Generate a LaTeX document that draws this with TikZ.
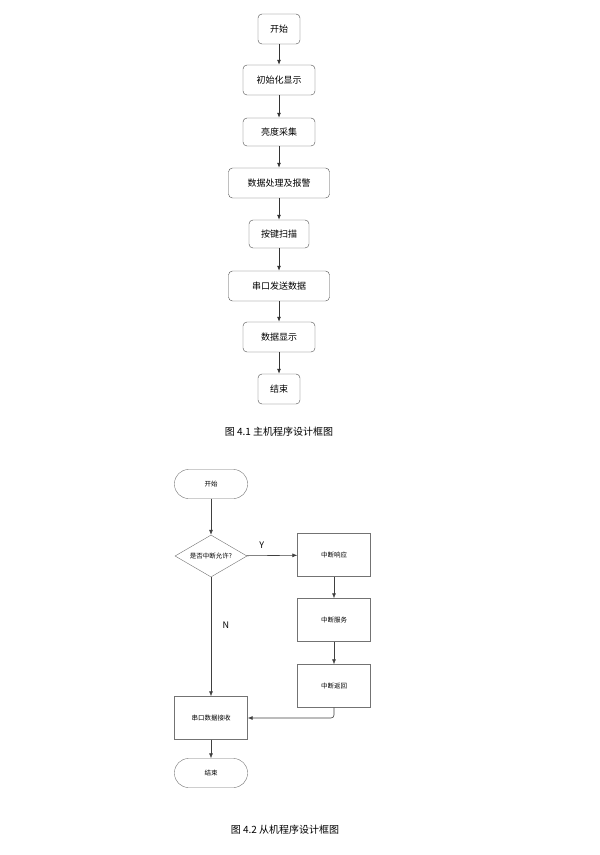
\documentclass[tikz,border=0pt]{standalone}
\usepackage{fontspec}
\setmainfont{Noto Sans CJK SC}
\usetikzlibrary{shapes.geometric,arrows.meta}
\begin{document}
\begin{tikzpicture}[x=1pt,y=-1pt,
  tb/.style={draw=black!70,rounded corners=4pt,fill=white,minimum height=30pt,inner sep=0pt,font=\fontsize{9}{9}\selectfont},
  bb/.style={draw=black!55,fill=white,minimum width=73pt,minimum height=43pt,inner sep=0pt,font=\fontsize{6.5}{7}\selectfont},
  st/.style={bb,rounded corners=14pt,minimum height=29pt},
  ar/.style={-{Latex[length=5pt,width=4pt]},black!80,line width=0.8pt},
  ar2/.style={-{Latex[length=5pt,width=4pt]},black!75,line width=0.6pt}]
\useasboundingbox (0,0) rectangle (600,855);
\node[tb,minimum width=42pt] (a1) at (279,29) {开始};
\node[tb,minimum width=72pt] (a2) at (279,80) {初始化显示};
\node[tb,minimum width=72pt,minimum height=28pt] (a3) at (279,132) {亮度采集};
\node[tb,minimum width=101pt] (a4) at (279,183) {数据处理及报警};
\node[tb,minimum width=60pt,minimum height=28pt] (a5) at (279,234) {按键扫描};
\node[tb,minimum width=101pt] (a6) at (279,286) {串口发送数据};
\node[tb,minimum width=72pt] (a7) at (279,337) {数据显示};
\node[tb,minimum width=42pt] (a8) at (279,389) {结束};
\foreach \i/\j in {a1/a2,a2/a3,a3/a4,a4/a5,a5/a6,a6/a7,a7/a8} \draw[ar] (\i) -- (\j);
\node[font=\fontsize{10}{10}\selectfont] (c1) at (279,432) {图 4.1 主机程序设计框图};
\node[st] (b1) at (211,484) {开始};
\node[diamond,draw=black!55,fill=white,aspect=1.7,minimum width=72pt,minimum height=42pt,inner sep=0pt,font=\fontsize{6.5}{7}\selectfont] (b2) at (211,556) {是否中断允许?};
\node[bb] (b3) at (334,555) {中断响应};
\node[bb] (b4) at (334,620) {中断服务};
\node[bb] (b5) at (334,686) {中断返回};
\node[bb] (b6) at (211,718) {串口数据接收};
\node[st] (b7) at (211,773) {结束};
\draw[ar2] (b1) -- (b2);
\draw[ar2] (b2) -- node[above=3pt,pos=0.3,font=\fontsize{9}{9}\selectfont,black]{Y} (b3);
\draw[ar2] (b3) -- (b4);
\draw[ar2] (b4) -- (b5);
\draw[ar2] (b2) -- node[right=8pt,pos=0.4,font=\fontsize{9}{9}\selectfont,black]{N} (b6);
\draw[ar2,rounded corners=3pt] (b5.south) |- (b6.east);
\draw[ar2] (b6) -- (b7);
\node[font=\fontsize{10}{10}\selectfont] (c2) at (285,830) {图 4.2 从机程序设计框图};
\end{tikzpicture}
\end{document}
